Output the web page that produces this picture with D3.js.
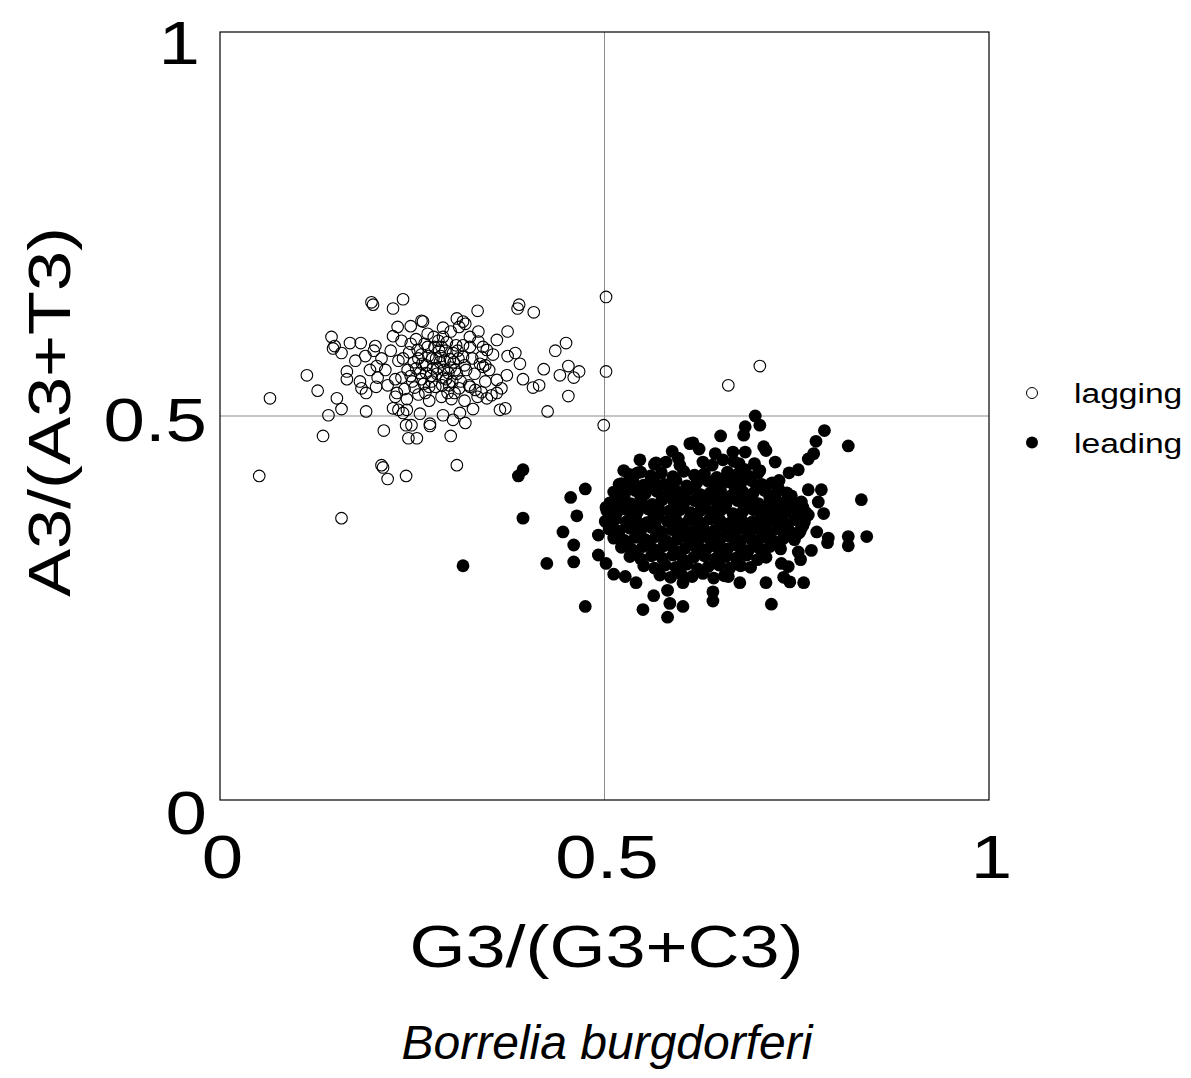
<!DOCTYPE html>
<html>
<head>
<meta charset="utf-8">
<script src="https://cdn.jsdelivr.net/npm/d3@7"></script>
<style>
  html, body { margin: 0; padding: 0; background: #fff; }
  svg { display: block; }
</style>
</head>
<body>
<svg id="chart" width="1191" height="1078"></svg>
<script>
// ---------------- DATA ----------------
const xTicks = [0, 0.5, 1];
const xTickLabels = ["0", "0.5", "1"];
const yTicks = [0, 0.5, 1];
const yTickLabels = ["0", "0.5", "1"];
const seriesNames = ["lagging", "leading"];
const xTitle = "G3/(G3+C3)";
const yTitle = "A3/(A3+T3)";
const caption = "Borrelia burgdorferi";

// lagging strand genes: [G3/(G3+C3), A3/(A3+T3)]
const lagging = [
  [0.051,0.422],[0.065,0.523],[0.113,0.553],[0.127,0.533],[0.134,0.474],[0.141,0.501],[0.145,0.603],
  [0.147,0.588],[0.149,0.591],[0.152,0.523],[0.158,0.582],[0.158,0.509],[0.158,0.367],[0.165,0.558],
  [0.165,0.548],[0.169,0.595],[0.176,0.572],[0.182,0.545],[0.183,0.595],[0.184,0.536],[0.189,0.578],
  [0.190,0.506],[0.197,0.648],[0.199,0.645],[0.202,0.591],[0.203,0.538],[0.204,0.565],[0.210,0.436],
  [0.212,0.433],[0.213,0.481],[0.218,0.418],[0.225,0.640],[0.225,0.510],[0.228,0.525],[0.231,0.616],
  [0.232,0.508],[0.238,0.652],[0.238,0.504],[0.242,0.422],[0.242,0.488],[0.243,0.508],[0.245,0.471],
  [0.248,0.617],[0.249,0.488],[0.256,0.471],[0.260,0.503],[0.262,0.624],[0.264,0.623],[0.273,0.490],
  [0.273,0.487],[0.290,0.501],[0.290,0.603],[0.300,0.474],[0.303,0.495],[0.308,0.436],[0.308,0.627],
  [0.311,0.616],[0.312,0.504],[0.316,0.623],[0.316,0.577],[0.319,0.620],[0.319,0.491],[0.325,0.603],
  [0.325,0.538],[0.329,0.509],[0.332,0.534],[0.335,0.637],[0.336,0.610],[0.336,0.597],[0.340,0.577],
  [0.340,0.531],[0.342,0.590],[0.342,0.564],[0.345,0.566],[0.347,0.586],[0.347,0.523],[0.353,0.527],
  [0.360,0.599],[0.360,0.547],[0.364,0.508],[0.366,0.536],[0.371,0.510],[0.373,0.553],[0.374,0.610],
  [0.374,0.578],[0.384,0.582],[0.387,0.640],[0.389,0.645],[0.390,0.568],[0.394,0.548],[0.407,0.537],
  [0.408,0.635],[0.415,0.540],[0.421,0.561],[0.426,0.506],[0.436,0.585],[0.442,0.553],[0.450,0.595],
  [0.453,0.565],[0.453,0.526],[0.460,0.550],[0.467,0.558],[0.499,0.488],[0.502,0.655],[0.502,0.558],
  [0.661,0.540],[0.702,0.565],
  [0.215,0.560],[0.222,0.585],[0.228,0.548],[0.232,0.572],[0.236,0.598],[0.240,0.535],[0.244,0.560],
  [0.246,0.583],[0.250,0.545],[0.252,0.570],[0.255,0.600],[0.258,0.528],[0.260,0.556],[0.262,0.580],
  [0.265,0.542],[0.268,0.566],[0.270,0.590],[0.272,0.520],[0.274,0.552],[0.276,0.575],[0.278,0.603],
  [0.280,0.538],[0.283,0.562],[0.285,0.585],[0.288,0.525],[0.290,0.550],[0.292,0.572],[0.295,0.596],
  [0.298,0.540],[0.300,0.563],[0.303,0.582],[0.305,0.530],[0.308,0.555],[0.310,0.575],[0.313,0.545],
  [0.316,0.592],[0.218,0.540],[0.225,0.604],[0.230,0.530],[0.238,0.575],[0.243,0.522],[0.248,0.594],
  [0.253,0.537],[0.257,0.586],[0.263,0.568],[0.267,0.530],[0.271,0.578],[0.275,0.545],[0.279,0.590],
  [0.282,0.555],[0.286,0.570],[0.289,0.540],[0.293,0.585],[0.297,0.556],[0.301,0.522],[0.304,0.570],
  [0.307,0.592],[0.311,0.536],[0.236,0.550],[0.258,0.575],[0.268,0.556],[0.284,0.598],[0.296,0.530],
  [0.320,0.560],[0.324,0.540],[0.328,0.575],[0.331,0.555],[0.335,0.525],[0.338,0.568],[0.345,0.545],
  [0.350,0.560],[0.355,0.580],[0.360,0.530],[0.325,0.590],[0.318,0.520],[0.210,0.575],[0.205,0.550],
  [0.200,0.585],[0.195,0.560],[0.190,0.530],[0.270,0.607],[0.290,0.615],[0.300,0.610],
  [0.262,0.548],[0.277,0.562],[0.287,0.578],[0.294,0.548],[0.299,0.574],[0.306,0.560],[0.272,0.538],
  [0.281,0.575],[0.291,0.560],[0.309,0.585],[0.266,0.594],[0.255,0.562],[0.248,0.552],[0.302,0.545],
  [0.318,0.566],[0.288,0.590]
];

// leading strand genes: [G3/(G3+C3), A3/(A3+T3)]
const leading = [
  [0.394,0.430],[0.388,0.422],[0.394,0.367],[0.316,0.305],[0.475,0.405],[0.456,0.394],[0.464,0.370],
  [0.446,0.349],[0.425,0.308],[0.460,0.332],[0.460,0.310],[0.475,0.252],[0.502,0.381],[0.502,0.362],
  [0.492,0.345],[0.492,0.319],[0.502,0.308],[0.512,0.294],[0.527,0.291],[0.541,0.283],[0.564,0.266],
  [0.582,0.273],[0.585,0.256],[0.602,0.252],[0.582,0.238],[0.550,0.248],[0.602,0.283],[0.641,0.271],
  [0.641,0.259],[0.661,0.291],[0.519,0.411],[0.525,0.429],[0.519,0.392],[0.546,0.443],[0.567,0.439],
  [0.543,0.426],[0.561,0.419],[0.588,0.454],[0.611,0.464],[0.598,0.436],[0.696,0.500],[0.702,0.488],
  [0.683,0.486],[0.681,0.475],[0.651,0.474],[0.786,0.481],[0.775,0.467],[0.817,0.461],[0.772,0.451],
  [0.765,0.444],[0.707,0.460],[0.710,0.455],[0.667,0.453],[0.683,0.453],[0.644,0.451],[0.654,0.443],
  [0.623,0.457],[0.615,0.465],[0.752,0.430],[0.740,0.426],[0.727,0.416],[0.702,0.429],[0.675,0.438],
  [0.683,0.430],[0.659,0.422],[0.782,0.404],[0.765,0.404],[0.834,0.391],[0.710,0.409],[0.676,0.409],
  [0.743,0.386],[0.756,0.388],[0.778,0.388],[0.785,0.373],[0.737,0.356],[0.715,0.371],[0.726,0.371],
  [0.765,0.371],[0.791,0.341],[0.817,0.343],[0.817,0.331],[0.841,0.343],[0.754,0.349],[0.790,0.335],
  [0.769,0.325],[0.752,0.323],[0.755,0.313],[0.730,0.308],[0.739,0.304],[0.733,0.290],[0.741,0.284],
  [0.759,0.283],[0.710,0.283],[0.717,0.255],[0.676,0.283],[0.727,0.332],[0.706,0.321],[0.776,0.349],
  [0.752,0.347],
  [0.532,0.424],[0.547,0.427],[0.560,0.422],[0.574,0.426],[0.589,0.421],[0.603,0.428],[0.617,0.423],
  [0.630,0.425],[0.646,0.420],[0.660,0.427],[0.673,0.424],[0.688,0.421],[0.700,0.426],
  [0.522,0.412],[0.537,0.415],[0.551,0.410],[0.565,0.414],[0.578,0.411],[0.593,0.416],[0.607,0.409],
  [0.620,0.413],[0.635,0.415],[0.649,0.410],[0.662,0.414],[0.677,0.412],[0.691,0.416],[0.704,0.411],
  [0.718,0.413],
  [0.512,0.401],[0.526,0.398],[0.540,0.403],[0.553,0.399],[0.568,0.402],[0.582,0.397],[0.596,0.401],
  [0.609,0.404],[0.624,0.398],[0.638,0.400],[0.651,0.403],[0.666,0.397],[0.680,0.401],[0.693,0.399],
  [0.708,0.403],[0.722,0.398],[0.737,0.400],
  [0.507,0.387],[0.520,0.390],[0.534,0.386],[0.548,0.389],[0.562,0.385],[0.575,0.391],[0.590,0.388],
  [0.603,0.386],[0.617,0.390],[0.631,0.387],[0.645,0.389],[0.658,0.385],[0.673,0.390],[0.686,0.388],
  [0.700,0.386],[0.715,0.389],[0.729,0.387],[0.744,0.390],
  [0.503,0.377],[0.516,0.374],[0.529,0.378],[0.543,0.375],[0.557,0.379],[0.570,0.373],[0.584,0.376],
  [0.598,0.378],[0.612,0.374],[0.625,0.377],[0.639,0.375],[0.653,0.379],[0.667,0.373],[0.680,0.376],
  [0.694,0.378],[0.708,0.374],[0.722,0.377],[0.736,0.375],[0.750,0.378],[0.762,0.374],
  [0.501,0.363],[0.514,0.366],[0.528,0.362],[0.541,0.365],[0.555,0.361],[0.568,0.366],[0.582,0.363],
  [0.596,0.361],[0.610,0.365],[0.623,0.362],[0.637,0.366],[0.651,0.363],[0.664,0.361],[0.678,0.365],
  [0.692,0.362],[0.706,0.366],[0.720,0.363],[0.733,0.361],[0.747,0.365],[0.760,0.362],
  [0.506,0.353],[0.519,0.350],[0.533,0.354],[0.547,0.351],[0.561,0.355],[0.574,0.349],[0.588,0.352],
  [0.602,0.354],[0.615,0.350],[0.629,0.353],[0.643,0.351],[0.657,0.355],[0.670,0.349],[0.684,0.352],
  [0.698,0.354],[0.712,0.350],[0.726,0.353],[0.740,0.351],[0.755,0.352],
  [0.512,0.341],[0.526,0.338],[0.540,0.342],[0.553,0.339],[0.567,0.343],[0.581,0.337],[0.595,0.340],
  [0.608,0.342],[0.622,0.338],[0.636,0.341],[0.650,0.339],[0.663,0.343],[0.677,0.337],[0.691,0.340],
  [0.705,0.342],[0.719,0.338],[0.733,0.341],[0.747,0.339],
  [0.522,0.329],[0.536,0.326],[0.550,0.330],[0.563,0.327],[0.577,0.331],[0.591,0.325],[0.605,0.328],
  [0.618,0.330],[0.632,0.326],[0.646,0.329],[0.660,0.327],[0.673,0.331],[0.687,0.325],[0.701,0.328],
  [0.715,0.330],[0.729,0.327],
  [0.533,0.317],[0.547,0.314],[0.561,0.318],[0.575,0.315],[0.589,0.319],[0.602,0.313],[0.616,0.316],
  [0.630,0.318],[0.644,0.314],[0.658,0.317],[0.671,0.315],[0.685,0.319],[0.699,0.313],[0.710,0.316],
  [0.551,0.305],[0.565,0.302],[0.579,0.306],[0.593,0.303],[0.607,0.307],[0.621,0.301],[0.635,0.304],
  [0.649,0.306],[0.663,0.302],[0.677,0.305],[0.690,0.303],
  [0.572,0.293],[0.586,0.290],[0.600,0.294],[0.614,0.291],[0.628,0.295],[0.642,0.289],[0.656,0.292],
  [0.565,0.437],[0.580,0.440],[0.596,0.445],[0.628,0.440],[0.640,0.436],[0.668,0.441],[0.695,0.438],
  [0.722,0.440],
  [0.530,0.406],[0.558,0.407],[0.586,0.405],[0.614,0.406],[0.642,0.408],[0.670,0.405],[0.698,0.407],
  [0.726,0.406],
  [0.519,0.394],[0.547,0.395],[0.575,0.393],[0.603,0.394],[0.631,0.396],[0.659,0.393],[0.687,0.395],
  [0.715,0.394],[0.743,0.396],
  [0.514,0.382],[0.542,0.383],[0.570,0.381],[0.598,0.382],[0.626,0.384],[0.654,0.381],[0.682,0.383],
  [0.710,0.382],[0.738,0.384],[0.758,0.381],
  [0.508,0.370],[0.536,0.371],[0.564,0.369],[0.592,0.370],[0.620,0.372],[0.648,0.369],[0.676,0.371],
  [0.704,0.370],[0.732,0.372],[0.757,0.369],
  [0.510,0.358],[0.538,0.359],[0.566,0.357],[0.594,0.358],[0.622,0.360],[0.650,0.357],[0.678,0.359],
  [0.706,0.358],[0.734,0.360],[0.758,0.357],
  [0.518,0.346],[0.546,0.347],[0.574,0.345],[0.602,0.346],[0.630,0.348],[0.658,0.345],[0.686,0.347],
  [0.714,0.346],[0.742,0.348],
  [0.530,0.334],[0.558,0.335],[0.586,0.333],[0.614,0.334],[0.642,0.336],[0.670,0.333],[0.698,0.335],
  [0.722,0.334],
  [0.540,0.322],[0.568,0.323],[0.596,0.321],[0.624,0.322],[0.652,0.324],[0.680,0.321],[0.706,0.323]
];

// ---------------- CHART ----------------
const svg = d3.select("#chart");
const W = 1191, H = 1078;
const margin = { left: 220, top: 32, right: W - 989, bottom: H - 800 };
const x = d3.scaleLinear().domain([0, 1]).range([margin.left, W - margin.right]);
const y = d3.scaleLinear().domain([0, 1]).range([H - margin.bottom, margin.top]);

const FONT = "'Liberation Sans', Arial, Helvetica, sans-serif";
const STRETCH = 1.2; // horizontally widened lettering of the original

// reference lines at 0.5
svg.append("line")
  .attr("x1", x(0.5)).attr("x2", x(0.5)).attr("y1", y(0)).attr("y2", y(1))
  .attr("stroke", "#8c8c8c").attr("stroke-width", 1);
svg.append("line")
  .attr("x1", x(0)).attr("x2", x(1)).attr("y1", y(0.5)).attr("y2", y(0.5))
  .attr("stroke", "#8c8c8c").attr("stroke-width", 1);

// frame
svg.append("rect")
  .attr("x", x(0)).attr("y", y(1))
  .attr("width", x(1) - x(0)).attr("height", y(0) - y(1))
  .attr("fill", "none").attr("stroke", "#000").attr("stroke-width", 1.2);

// points
svg.append("g").selectAll("circle").data(lagging).join("circle")
  .attr("cx", d => x(d[0])).attr("cy", d => y(d[1])).attr("r", 5.8)
  .attr("fill", "none").attr("stroke", "#000").attr("stroke-width", 1.1);
svg.append("g").selectAll("circle").data(leading).join("circle")
  .attr("cx", d => x(d[0])).attr("cy", d => y(d[1])).attr("r", 6.4)
  .attr("fill", "#000");

// x axis
const xAxis = svg.append("g").attr("transform", `translate(0,${y(0)})`)
  .call(d3.axisBottom(x).tickValues(xTicks).tickFormat((d, i) => xTickLabels[i]).tickSize(0));
xAxis.select(".domain").remove();
xAxis.selectAll("text")
  .attr("x", 0).attr("y", 0).attr("dy", 0)
  .attr("transform", `translate(2,78) scale(${STRETCH},1)`)
  .attr("text-anchor", "middle")
  .style("font-family", FONT).style("font-size", "62px")
  .attr("fill", "#000");

// y axis
const yAxis = svg.append("g").attr("transform", `translate(${x(0)},0)`)
  .call(d3.axisLeft(y).tickValues(yTicks).tickFormat((d, i) => yTickLabels[i]).tickSize(0));
yAxis.select(".domain").remove();
yAxis.selectAll("text")
  .attr("x", 0).attr("y", 0).attr("dy", 0)
  .attr("transform", d => {
    const dx = d === 1 ? -20 : -13;
    const dy = d === 1 ? 31 : (d === 0 ? 33 : 24);
    return `translate(${dx},${dy}) scale(${STRETCH},1)`;
  })
  .attr("text-anchor", "end")
  .style("font-family", FONT).style("font-size", "62px")
  .attr("fill", "#000");

// axis titles
svg.append("text")
  .attr("transform", `translate(${(x(0) + x(1)) / 2 + 2},967) scale(${STRETCH},1)`)
  .attr("text-anchor", "middle")
  .style("font-family", FONT).style("font-size", "60px")
  .text(xTitle);
svg.append("text")
  .attr("transform", `translate(70,${(y(0) + y(1)) / 2 - 4}) rotate(-90) scale(${STRETCH},1)`)
  .attr("text-anchor", "middle")
  .style("font-family", FONT).style("font-size", "60px")
  .text(yTitle);

// caption
svg.append("text")
  .attr("x", 607).attr("y", 1059)
  .attr("text-anchor", "middle")
  .style("font-family", FONT).style("font-size", "48px").style("font-style", "italic")
  .text(caption);

// legend
const legend = svg.append("g").attr("transform", "translate(1032,393)");
seriesNames.forEach((name, i) => {
  const g = legend.append("g").attr("transform", `translate(0,${i * 49.5})`);
  g.append("circle").attr("r", i === 0 ? 5.5 : 6)
    .attr("fill", i === 0 ? "none" : "#000")
    .attr("stroke", "#000").attr("stroke-width", i === 0 ? 1 : 0);
  g.append("text").attr("transform", `translate(42,10) scale(${STRETCH},1)`)
    .style("font-family", FONT).style("font-size", "28px")
    .text(name);
});
</script>
</body>
</html>
